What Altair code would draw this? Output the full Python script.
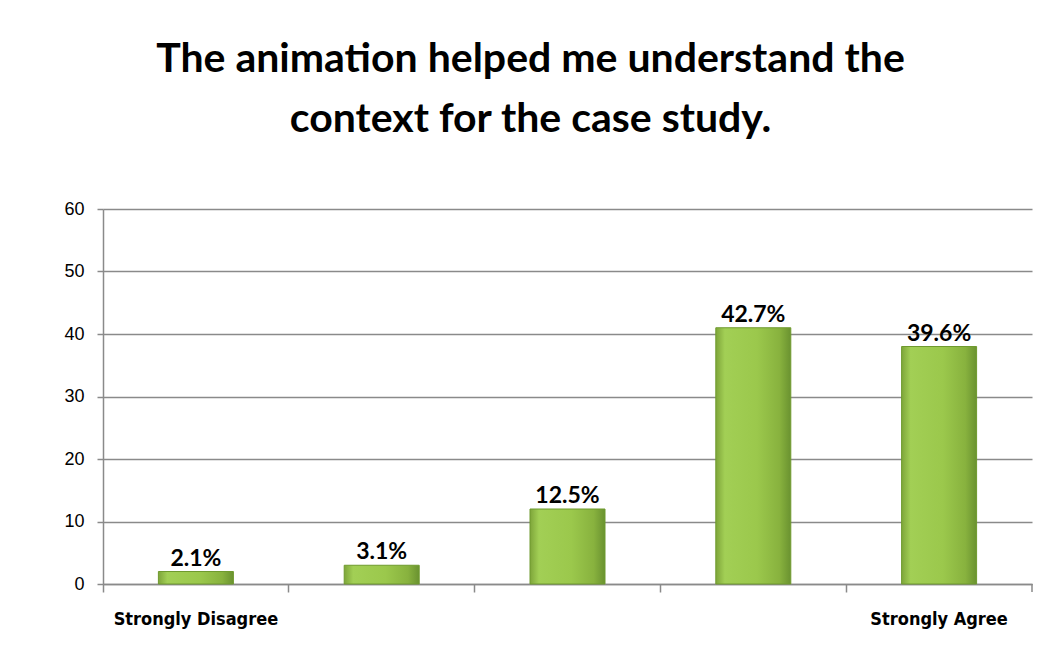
import altair as alt
import pandas as pd

# Data
categories = ["Strongly Disagree", "Disagree", "Neutral", "Agree", "Strongly Agree"]
counts = [2, 3, 12, 41, 38]
percent_labels = ["2.1%", "3.1%", "12.5%", "42.7%", "39.6%"]
shown_tick_labels = ["Strongly Disagree", "", "", "", "Strongly Agree"]
y_ticks = [0, 10, 20, 30, 40, 50, 60]
title_lines = ["The animation helped me understand the", "context for the case study."]

df = pd.DataFrame({"cat": categories, "count": counts, "label": percent_labels})

W, H = 929, 375

label_map = "{" + ",".join(f"'{c}':'{l}'" for c, l in zip(categories, shown_tick_labels)) + "}"

x = alt.X(
    "cat:N",
    sort=categories,
    scale=alt.Scale(paddingInner=0, paddingOuter=0),
    axis=alt.Axis(
        title=None,
        bandPosition=0,
        labelExpr=f"{label_map}[datum.value]",
        labelAngle=0,
        labelFont="'Liberation Sans Narrow', 'DejaVu Sans Condensed', 'Roboto Condensed', 'Liberation Sans', sans-serif",
        labelFontWeight="bold",
        labelFontSize=18,
        labelColor="#000000",
        labelPadding=18,
        tickSize=8,
        tickColor="#8a8a8a",
        tickWidth=1.5,
        domainColor="#8a8a8a",
        domainWidth=1.5,
        grid=False,
    ),
)

y = alt.Y(
    "count:Q",
    scale=alt.Scale(domain=[0, 60], nice=False),
    axis=alt.Axis(
        title=None,
        values=y_ticks,
        labelFont="'Liberation Sans', Arial, sans-serif",
        labelFontSize=18,
        labelColor="#000000",
        labelPadding=13,
        tickSize=6,
        tickColor="#8a8a8a",
        tickWidth=1.5,
        domainColor="#8a8a8a",
        domainWidth=1.5,
        gridColor="#8a8a8a",
        gridWidth=1.5,
    ),
)

gradient = alt.Gradient(
    gradient="linear",
    stops=[
        alt.GradientStop(color="#7ea53a", offset=0),
        alt.GradientStop(color="#a2cf55", offset=0.12),
        alt.GradientStop(color="#9bc84c", offset=0.55),
        alt.GradientStop(color="#88b23e", offset=0.85),
        alt.GradientStop(color="#6a9230", offset=1),
    ],
    x1=0, x2=1, y1=0, y2=0,
)

bars = alt.Chart(df).mark_bar(size=75, color=gradient, stroke="#6f9a2e", strokeWidth=1).encode(
    x=x, y=y
)

texts = alt.Chart(df).mark_text(
    font="Lato", fontWeight="bold", fontSize=23, baseline="bottom", dy=-1, color="#000000"
).encode(x=alt.X("cat:N", sort=categories), y="count:Q", text="label:N")

end_tick = alt.Chart(pd.DataFrame({"a": [0]})).mark_rule(color="#8a8a8a", strokeWidth=1.5).encode(
    x=alt.value(W), y=alt.value(H), y2=alt.value(H + 8)
)

chart = (
    alt.layer(bars, texts, end_tick)
    .properties(
        width=W,
        height=H,
        autosize=alt.AutoSizeParams(type="none"),
        padding={"left": 95, "top": 201, "right": 10, "bottom": 50},
        title=alt.TitleParams(
            text=title_lines,
            font="Lato",
            fontWeight="bold",
            fontSize=41,
            lineHeight=60,
            color="#000000",
            anchor="middle",
            dx=-37,
            offset=59,
        ),
    )
    .configure_view(stroke=None)
)

chart.save("out.html", embed_options={"renderer": "svg", "actions": False})
